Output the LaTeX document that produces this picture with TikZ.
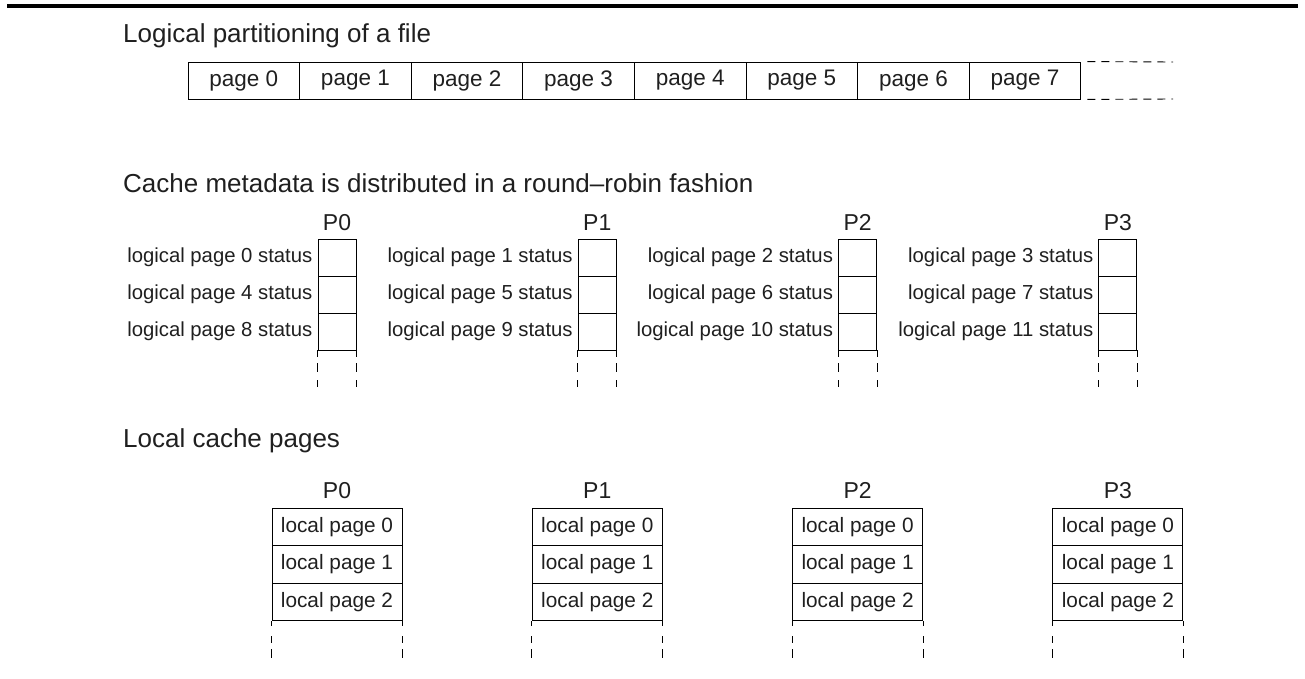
\documentclass[tikz,border=0pt]{standalone}
\usepackage{fontspec}
\setmainfont{Liberation Sans}
\begin{document}
\begin{tikzpicture}[x=1pt,y=-1pt,
  every node/.style={text=black!88},
  title/.style={anchor=base west, inner sep=0, font=\fontsize{26}{26}\selectfont},
  pagecell/.style={draw, line width=0.9pt, minimum width=111.6pt, minimum height=37pt, inner sep=0, font=\fontsize{22.5}{22.5}\selectfont},
  metacell/.style={draw, line width=0.9pt, minimum width=38pt, minimum height=37pt, inner sep=0},
  metalabel/.style={anchor=east, inner sep=0, font=\fontsize{20.3}{20.3}\selectfont},
  localcell/.style={draw, line width=0.9pt, minimum width=130pt, minimum height=37.5pt, inner sep=0, font=\fontsize{20.8}{20.8}\selectfont},
  plabel/.style={anchor=base, inner sep=0, font=\fontsize{23}{23}\selectfont},
  dashline/.style={line width=0.9pt, dash pattern=on 8pt off 6pt},
  side/.style={line width=0.9pt}
]
\useasboundingbox (0,0) rectangle (1305,679);
% top rule
\coordinate (ruleL) at (7,6);
\coordinate (ruleR) at (1298,6);
\draw[line width=4pt] (ruleL) -- (ruleR);

% section 1
\node[title] (t1) at (123,43) {Logical partitioning of a file};
\foreach \k in {0,...,7} {
  \node[pagecell] (page\k) at ({188+111.6*(\k+0.5)},80.5) {page \k};
}
\coordinate (dashT) at (1173,62);
\coordinate (dashB) at (1173,99);
\draw[dashline, dash phase=-6pt] (page7.north east) -- (dashT);
\draw[dashline, dash phase=-6pt] (page7.south east) -- (dashB);

% section 2
\node[title] (t2) at (123,193) {Cache metadata is distributed in a round--robin fashion};
\foreach \i/\a/\b/\c in {0/0/4/8, 1/1/5/9, 2/2/6/10, 3/3/7/11} {
  \pgfmathsetmacro{\cx}{337+260.3*\i}
  \node[metacell] (m\i0) at (\cx,257.5) {};
  \node[metacell] (m\i1) at (\cx,294.5) {};
  \node[metacell] (m\i2) at (\cx,331.5) {};
  \node[plabel] (mp\i) at ([yshift=8.5pt]m\i0.north) {P\i};
  \node[metalabel] (ml\i0) at ([xshift=-5pt]m\i0.west) {logical page \a\ status};
  \node[metalabel] (ml\i1) at ([xshift=-5pt]m\i1.west) {logical page \b\ status};
  \node[metalabel] (ml\i2) at ([xshift=-5pt]m\i2.west) {logical page \c\ status};
  \draw[side, dash pattern=on 7pt off 6pt on 9pt off 8pt on 7pt off 100pt] (m\i2.south west) -- ++(0,37);
  \draw[side, dash pattern=on 7pt off 6pt on 9pt off 8pt on 7pt off 100pt] (m\i2.south east) -- ++(0,37);
}

% section 3
\node[title] (t3) at (123,447) {Local cache pages};
\foreach \i in {0,...,3} {
  \pgfmathsetmacro{\cx}{337+260.3*\i}
  \node[localcell] (l\i0) at (\cx,527) {local page 0};
  \node[localcell] (l\i1) at (\cx,564.5) {local page 1};
  \node[localcell] (l\i2) at (\cx,602) {local page 2};
  \node[plabel] (lp\i) at ([yshift=9pt]l\i0.north) {P\i};
  \draw[side, dash pattern=on 5pt off 10pt on 7pt off 6pt on 9pt off 100pt] (l\i2.south west) -- ++(0,37);
  \draw[side, dash pattern=on 5pt off 10pt on 7pt off 6pt on 9pt off 100pt] (l\i2.south east) -- ++(0,37);
}
\end{tikzpicture}
\end{document}
